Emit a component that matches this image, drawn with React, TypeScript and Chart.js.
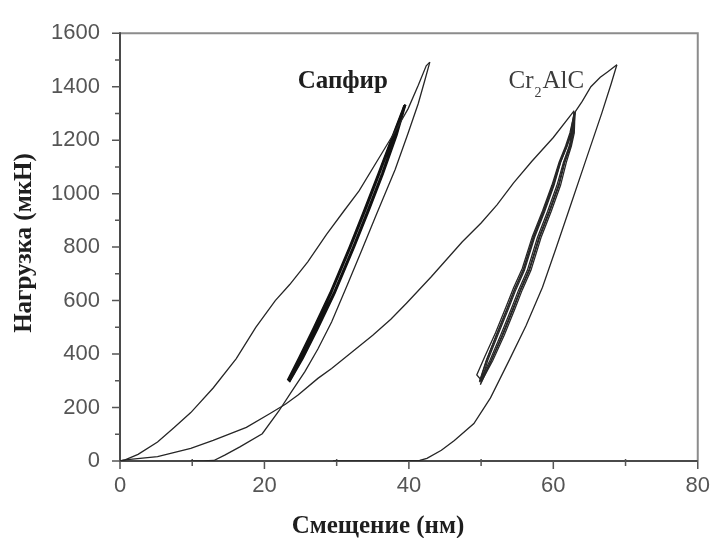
import React, { useEffect, useRef } from "react";
import { Chart, registerables } from "chart.js";

Chart.register(...registerables);

type Pt = [number, number];

// ---- axis ticks / texts ----
const xTickValues = [0, 20, 40, 60, 80];
const yTickValues = [0, 200, 400, 600, 800, 1000, 1200, 1400, 1600];
const xMinorTickValues = [10, 30, 50, 70];
const yMinorTickValues = [100, 300, 500, 700, 900, 1100, 1300, 1500];
const xTitle = "Смещение (нм)";
const yTitle = "Нагрузка (мкН)";
const sapphireLabel = "Сапфир";

// ---- Сапфир (sapphire) ----
const sapphireLoading: Pt[] = [
  [0, 0], [0.7, 4], [2.5, 25], [5.2, 71], [7.5, 125], [9.8, 181], [12.9, 273],
  [16.1, 383], [18.8, 500], [21.5, 600], [23.5, 660], [26, 745], [28.6, 848],
  [31, 935], [33.1, 1010], [36.3, 1153], [38.5, 1251], [39.9, 1318],
  [41.3, 1405], [42.4, 1478], [42.9, 1492],
];
const sapphireCycleA: Pt[] = [
  [39.5, 1333], [38.3, 1220], [36.4, 1075], [34.4, 935], [32.4, 800], [29.7, 627],
  [27.35, 495], [25.3, 385], [23.5, 300], [23.3, 305], [24.8, 385], [26.8, 495],
  [29.1, 627], [31.8, 800], [33.8, 935], [35.8, 1075], [37.85, 1220], [39.4, 1330],
];
const sapphireCycleB: Pt[] = [
  [39.4, 1330], [38.2, 1220], [36.3, 1075], [34.3, 935], [32.3, 800], [29.6, 627],
  [27.2, 495], [25.2, 385], [23.4, 298], [24.9, 385], [26.9, 495], [29.2, 627],
  [31.9, 800], [33.9, 935], [35.9, 1075], [37.9, 1220], [39.5, 1333],
];
const sapphireUnloading: Pt[] = [
  [42.9, 1492], [42.2, 1423], [41.3, 1337], [39.9, 1227], [38.1, 1090],
  [35.4, 915], [33.5, 790], [31.5, 660], [29.3, 520], [27.4, 419], [25.6, 334],
  [23.8, 261], [22, 187], [19.7, 102], [16.6, 53], [14.5, 22], [13, 2],
  [11.5, 0], [9.8, 0],
];

// ---- Cr2AlC ----
const cr2alcLoading: Pt[] = [
  [0, 0], [0.7, 4], [5.2, 16], [9.8, 47], [12.9, 77], [17.5, 126], [20.6, 175],
  [22.9, 212], [24.7, 248], [27.4, 309], [29.3, 346], [32, 405], [35, 470],
  [37.5, 530], [39.7, 591], [43.1, 689], [47.4, 820], [50, 890], [52.2, 958],
  [54.5, 1040], [57, 1120], [60, 1210], [62.6, 1300], [62.9, 1310],
];
const cr2alcCycleA: Pt[] = [
  [63, 1305], [62.8, 1227], [62.4, 1178], [61.6, 1117], [60.8, 1031], [59.5, 933],
  [58.1, 836], [56.7, 713], [55.5, 640], [54.5, 570], [53, 470], [51.4, 375],
  [50, 300], [49.8, 300], [50.7, 375], [52.1, 470], [53.6, 570], [54.6, 640],
  [55.8, 713], [57.2, 836], [58.6, 933], [59.9, 1031], [60.9, 1117], [61.8, 1178],
  [62.4, 1227], [62.9, 1305],
];
const cr2alcCycleB: Pt[] = [
  [62.9, 1305], [62.7, 1227], [62.3, 1178], [61.5, 1117], [60.7, 1031], [59.4, 933],
  [58, 836], [56.6, 713], [55.4, 640], [54.4, 570], [52.9, 470], [51.4, 375],
  [49.9, 285], [50.9, 375], [52.3, 470], [53.8, 570], [54.8, 640], [56, 713],
  [57.4, 836], [58.8, 933], [60.1, 1031], [61, 1117], [61.9, 1178], [62.5, 1227],
  [63, 1305],
];
const cr2alcCycleC: Pt[] = [
  [63, 1305], [62.9, 1227], [62.5, 1178], [61.8, 1117], [61, 1031], [59.7, 933],
  [58.3, 836], [56.9, 713], [55.7, 640], [54.7, 570], [53.2, 470], [51.6, 375],
  [50.1, 300], [49.4, 322], [50.5, 390], [52, 480], [53.5, 580], [54.5, 648],
  [55.7, 720], [57.1, 840], [58.5, 935], [59.8, 1031], [60.8, 1117], [61.7, 1178],
  [62.3, 1227], [62.9, 1300],
];
const cr2alcCycleD: Pt[] = [
  [62.9, 1300], [62.6, 1227], [62.2, 1178], [61.4, 1117], [60.5, 1031], [59.2, 933],
  [57.8, 836], [56.4, 713], [55.2, 640], [54.2, 570], [52.7, 470], [51.2, 375],
  [49.8, 295], [50.8, 380], [52.2, 475], [53.7, 575], [54.7, 645], [55.9, 716],
  [57.3, 838], [58.7, 934], [60, 1031], [61, 1117], [61.9, 1178], [62.5, 1227],
  [63, 1305],
];
const cr2alcReload: Pt[] = [
  [63, 1305], [64, 1345], [65.2, 1400], [66.5, 1435], [67.5, 1455], [68.8, 1482],
];
const cr2alcUnloading: Pt[] = [
  [68.8, 1482], [68, 1410], [66.7, 1300], [64.4, 1117], [62.1, 933], [60.3, 790],
  [58.5, 650], [56.2, 505], [54, 383], [51.3, 236], [49, 140], [46.3, 77],
  [44.5, 40], [42.5, 10], [41.5, 2], [38, 0], [34, 0], [29.5, 0],
];

const thinSeries: Pt[][] = [
  sapphireLoading, sapphireUnloading, cr2alcLoading, cr2alcCycleA, cr2alcCycleB,
  cr2alcCycleC, cr2alcCycleD, cr2alcReload, cr2alcUnloading,
];
const thickSeries: Pt[][] = [sapphireCycleA, sapphireCycleB];

const toXY = (pts: Pt[]) => pts.map(([x, y]) => ({ x, y }));

const decor = {
  id: "decor",
  beforeDatasetsDraw(chart: any) {
    const { ctx, chartArea: a, scales } = chart;
    const xs = scales.x;
    const ys = scales.y;
    ctx.save();
    ctx.lineCap = "butt";
    // top / right frame
    ctx.strokeStyle = "#8c8c8c";
    ctx.lineWidth = 2;
    ctx.beginPath();
    ctx.moveTo(a.left, a.top);
    ctx.lineTo(a.right, a.top);
    ctx.lineTo(a.right, a.bottom);
    ctx.stroke();
    // axes
    ctx.strokeStyle = "#4a4a4a";
    ctx.beginPath();
    ctx.moveTo(a.left, a.top - 1);
    ctx.lineTo(a.left, a.bottom);
    ctx.lineTo(a.right, a.bottom);
    ctx.stroke();
    // ticks
    ctx.lineWidth = 1.5;
    ctx.strokeStyle = "#555";
    ctx.beginPath();
    for (const v of yTickValues) {
      const p = ys.getPixelForValue(v);
      ctx.moveTo(a.left - 8, p);
      ctx.lineTo(a.left, p);
    }
    for (const v of yMinorTickValues) {
      const p = ys.getPixelForValue(v);
      ctx.moveTo(a.left - 5, p);
      ctx.lineTo(a.left, p);
    }
    for (const v of xTickValues) {
      const p = xs.getPixelForValue(v);
      ctx.moveTo(p, a.bottom);
      ctx.lineTo(p, a.bottom + 8);
    }
    for (const v of xMinorTickValues) {
      const p = xs.getPixelForValue(v);
      ctx.moveTo(p, a.bottom - 2);
      ctx.lineTo(p, a.bottom + 5);
    }
    ctx.stroke();
    ctx.restore();
  },
  afterDraw(chart: any) {
    const { ctx, scales } = chart;
    const xs = scales.x;
    const ys = scales.y;
    ctx.save();
    ctx.fillStyle = "#1e1e1e";
    ctx.textBaseline = "alphabetic";
    // axis titles
    ctx.font = 'bold 25px "Liberation Serif", "Times New Roman", serif';
    ctx.textAlign = "center";
    ctx.fillText(xTitle, 378, 533);
    ctx.save();
    ctx.translate(31, 243);
    ctx.rotate(-Math.PI / 2);
    ctx.fillText(yTitle, 0, 0);
    ctx.restore();
    // series labels
    ctx.textAlign = "left";
    ctx.font = 'bold 25px "Liberation Serif", "Times New Roman", serif';
    ctx.fillText(sapphireLabel, xs.getPixelForValue(24.6), ys.getPixelForValue(1395));
    ctx.fillStyle = "#3c3c3c";
    let x0 = xs.getPixelForValue(53.8);
    const yb = ys.getPixelForValue(1395);
    ctx.font = '25px "Liberation Serif", "Times New Roman", serif';
    ctx.fillText("Cr", x0, yb);
    x0 += ctx.measureText("Cr").width;
    ctx.font = '14px "Liberation Serif", "Times New Roman", serif';
    ctx.fillText("2", x0 + 1, yb + 9);
    x0 += ctx.measureText("2").width + 2;
    ctx.font = '25px "Liberation Serif", "Times New Roman", serif';
    ctx.fillText("AlC", x0, yb);
    ctx.restore();
  },
};

export default function App() {
  const ref = useRef<HTMLCanvasElement | null>(null);
  useEffect(() => {
    if (!ref.current) return;
    const datasets: any[] = [];
    for (const s of thinSeries) {
      datasets.push({
        data: toXY(s),
        showLine: true,
        borderColor: "#262626",
        borderWidth: 1.3,
        pointRadius: 0,
        fill: false,
        tension: 0,
      });
    }
    for (const s of thickSeries) {
      datasets.push({
        data: toXY(s),
        showLine: true,
        borderColor: "#111",
        borderWidth: 2.4,
        pointRadius: 0,
        fill: false,
        tension: 0,
      });
    }
    const chart = new Chart(ref.current, {
      type: "scatter",
      data: { datasets },
      options: {
        animation: false,
        responsive: false,
        events: [],
        layout: { padding: { top: 24, right: 13, left: 0, bottom: 0 } },
        plugins: { legend: { display: false }, tooltip: { enabled: false } },
        scales: {
          x: {
            type: "linear",
            min: 0,
            max: 80,
            grid: { display: false, drawTicks: false },
            border: { display: false },
            afterBuildTicks: (s: any) => {
              s.ticks = xTickValues.map((v) => ({ value: v }));
            },
            afterFit: (s: any) => {
              s.height = 77;
            },
            ticks: {
              padding: 12,
              color: "#555",
              font: { family: '"Liberation Sans", Arial, sans-serif', size: 22 },
              maxRotation: 0,
              callback: (v: any) => String(v),
            },
          },
          y: {
            type: "linear",
            min: 0,
            max: 1600,
            grid: { display: false, drawTicks: false },
            border: { display: false },
            afterBuildTicks: (s: any) => {
              s.ticks = yTickValues.map((v) => ({ value: v }));
            },
            afterFit: (s: any) => {
              s.width = 120;
            },
            ticks: {
              padding: 20,
              color: "#555",
              font: { family: '"Liberation Sans", Arial, sans-serif', size: 22 },
              callback: (v: any) => String(v),
            },
          },
        },
      },
      plugins: [decor],
    });
    return () => chart.destroy();
  }, []);
  return (
    <div style={{ position: "fixed", left: 0, top: 0, width: 722, height: 538, background: "#fff" }}>
      <canvas ref={ref} width={722} height={538} style={{ display: "block" }} />
    </div>
  );
}
